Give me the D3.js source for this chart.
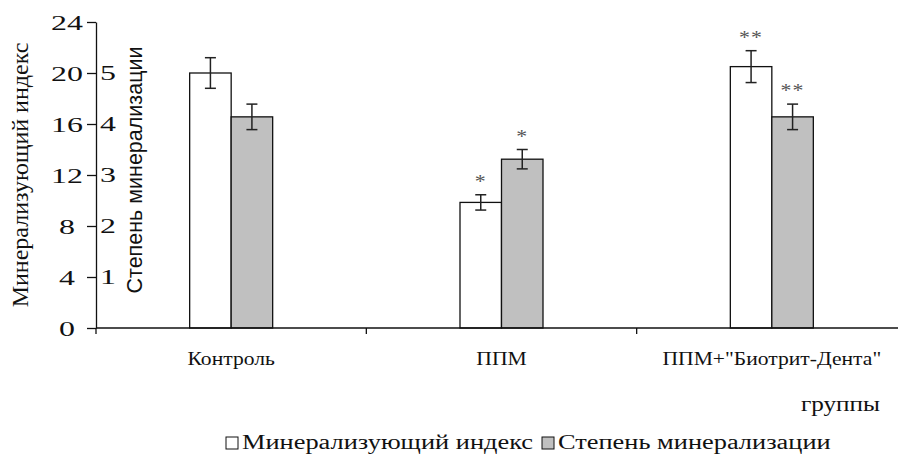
<!DOCTYPE html>
<html><head><meta charset="utf-8">
<script src="https://cdn.jsdelivr.net/npm/d3@7"></script>
<style>
html,body{margin:0;padding:0;background:#fff;}
svg{display:block;}
</style></head>
<body>
<svg id="chart" width="898" height="468"></svg>
<script>
// ---- data ----
const categories = ["Контроль", "ППМ", "ППМ+\"Биотрит-Дента\""];
const seriesNames = ["Минерализующий индекс", "Степень минерализации"];
const mineralIndex = [20.0, 9.85, 20.5];          // left axis (0-24)
const mineralIndexErr = [1.2, 0.6, 1.25];
const mineralDegree = [4.14, 3.31, 4.14];          // secondary scale (0-6)
const mineralDegreeErr = [0.25, 0.19, 0.25];
const signif = [["", ""], ["*", "*"], ["**", "**"]];
const yTicks = [0, 4, 8, 12, 16, 20, 24];
const y2Ticks = [1, 2, 3, 4, 5];
const xTitle = "группы";

// ---- layout ----
const svg = d3.select("#chart");
const mLeft = 96, mRight = 907, mTop = 22, mBottom = 328;
const serif = "'Liberation Serif','Times New Roman',serif";
const sans = "'Liberation Sans',Arial,sans-serif";
const ink = "#111";

const y = d3.scaleLinear().domain([0, 24]).range([mBottom, mTop]);
const y2 = d3.scaleLinear().domain([0, 6]).range([mBottom, mTop]);
const x0 = d3.scaleBand().domain(categories).range([mLeft, mRight]).padding(0);
const xSub = d3.scaleBand().domain([0, 1]).range([-41.5, 41.5]).padding(0);

const fills = ["#ffffff", "#c0c0c0"];

// horizontally widened text (the reference is stretched sideways)
function wide(sel, x, yy, s) {
  return sel.attr("x", 0).attr("y", 0)
    .attr("transform", `translate(${x},${yy}) scale(${s},1)`);
}

// bars
categories.forEach((c, i) => {
  const cx = x0(c) + x0.bandwidth() / 2;
  const vals = [
    { v: mineralIndex[i], e: mineralIndexErr[i], s: y },
    { v: mineralDegree[i], e: mineralDegreeErr[i], s: y2 }
  ];
  vals.forEach((d, k) => {
    const bx = cx + xSub(k);
    const bw = xSub.bandwidth();
    svg.append("rect")
      .attr("x", bx).attr("y", d.s(d.v))
      .attr("width", bw).attr("height", mBottom - d.s(d.v))
      .attr("fill", fills[k]).attr("stroke", ink).attr("stroke-width", 1.3);
    const mx = bx + bw / 2;
    const yt = d.s(d.v + d.e), yb = d.s(d.v - d.e);
    const g = svg.append("g").attr("stroke", "#222").attr("stroke-width", 1.5);
    g.append("line").attr("x1", mx).attr("x2", mx).attr("y1", yt).attr("y2", yb);
    g.append("line").attr("x1", mx - 5.5).attr("x2", mx + 5.5).attr("y1", yt).attr("y2", yt);
    g.append("line").attr("x1", mx - 5.5).attr("x2", mx + 5.5).attr("y1", yb).attr("y2", yb);
    if (signif[i][k]) {
      const t = svg.append("text")
        .attr("text-anchor", "middle").attr("font-family", serif)
        .attr("font-size", 19).attr("fill", "#555").attr("letter-spacing", 1)
        .text(signif[i][k]);
      wide(t, mx, yt - 7, 1.15);
    }
  });
});

// y axis
const yAxis = svg.append("g").attr("transform", `translate(${mLeft},0)`)
  .call(d3.axisLeft(y).tickValues(yTicks).tickSize(9).tickSizeOuter(0));
yAxis.select(".domain").attr("stroke", ink).attr("stroke-width", 1.3);
yAxis.selectAll(".tick line").attr("stroke", ink).attr("stroke-width", 1.3);
yAxis.selectAll(".tick text")
  .attr("font-family", serif).attr("font-size", 22).attr("fill", ink)
  .attr("text-anchor", "middle").attr("dy", "0.34em")
  .each(function () { wide(d3.select(this), 67 - mLeft, 0, 1.45); });

// secondary labels
svg.append("g").selectAll("text").data(y2Ticks).join("text")
  .attr("dy", "0.34em")
  .attr("font-family", serif).attr("font-size", 22).attr("fill", ink)
  .text(d => d)
  .each(function (d) { wide(d3.select(this), mLeft + 4, y2(d), 1.45); });

// x axis
svg.append("line").attr("x1", mLeft).attr("x2", mRight).attr("y1", mBottom).attr("y2", mBottom)
  .attr("stroke", ink).attr("stroke-width", 1.3);
svg.append("g").selectAll("line").data(categories).join("line")
  .attr("x1", d => x0(d)).attr("x2", d => x0(d))
  .attr("y1", mBottom).attr("y2", mBottom + 6)
  .attr("stroke", ink).attr("stroke-width", 1.3);
svg.append("g").selectAll("text").data(categories).join("text")
  .attr("text-anchor", "middle").attr("font-family", serif).attr("font-size", 18)
  .attr("fill", ink).text(d => d)
  .each(function (d) { wide(d3.select(this), x0(d) + x0.bandwidth() / 2, 365, 1.2); });

// titles
svg.append("text").attr("transform", "translate(28,175) rotate(-90)")
  .attr("text-anchor", "middle").attr("font-family", serif).attr("font-size", 24)
  .attr("fill", ink).text(seriesNames[0]);
svg.append("text").attr("transform", "translate(142,170) rotate(-90)")
  .attr("text-anchor", "middle").attr("font-family", sans).attr("font-size", 21.5)
  .attr("fill", ink).text(seriesNames[1]);
wide(svg.append("text").attr("text-anchor", "end")
  .attr("font-family", serif).attr("font-size", 21).attr("fill", ink).text(xTitle), 880, 411, 1.2);

// legend
const leg = svg.append("g");
let lx = 226;
const ly = 449, ls = 1.32;
seriesNames.forEach((n, k) => {
  leg.append("rect").attr("x", lx).attr("y", ly - 12).attr("width", 12).attr("height", 12)
    .attr("fill", fills[k]).attr("stroke", ink).attr("stroke-width", 1);
  const t = leg.append("text")
    .attr("font-family", serif).attr("font-size", 20).attr("fill", ink).text(n);
  wide(t, lx + 16, ly, ls);
  lx += 16 + t.node().getComputedTextLength() * ls + 9;
});
</script>
</body></html>
